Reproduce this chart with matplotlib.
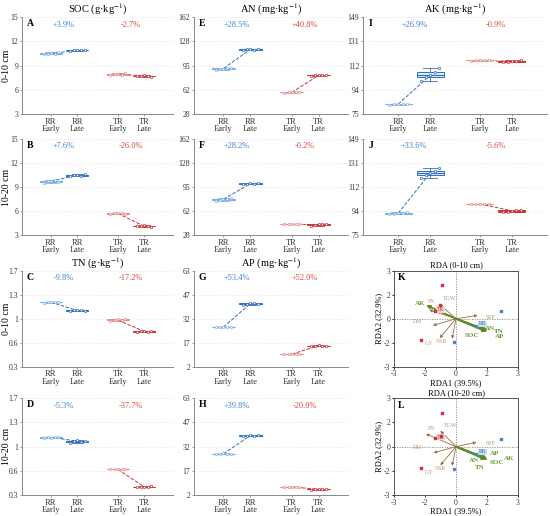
import numpy as np
import matplotlib
matplotlib.use('Agg')
import matplotlib.pyplot as plt

plt.rcParams['font.family'] = ['Liberation Serif', 'DejaVu Serif']
plt.rcParams['mathtext.fontset'] = 'stix'

groups = ['RR\nEarly', 'RR\nLate', 'TR\nEarly', 'TR\nLate']

# replicate values per group: RR Early, RR Late, TR Early, TR Late
soc_0_10 = [[10.4, 10.5, 10.6, 10.5, 10.7], [10.8, 10.9, 11.0, 10.9, 11.0],
            [7.9, 8.0, 8.0, 7.9, 8.1], [7.7, 7.7, 7.8, 7.7, 7.6]]
soc_10_20 = [[9.5, 9.7, 9.8, 9.9, 9.6], [10.4, 10.5, 10.5, 10.4, 10.6],
             [5.6, 5.7, 5.8, 5.7, 5.6], [4.1, 4.1, 4.2, 4.1, 4.0]]
tn_0_10 = [[1.23, 1.24, 1.25, 1.24, 1.25], [1.11, 1.12, 1.13, 1.12, 1.11],
           [0.97, 0.98, 0.99, 0.98, 0.99], [0.81, 0.815, 0.82, 0.81, 0.82]]
tn_10_20 = [[1.13, 1.14, 1.13, 1.14, 1.135], [1.06, 1.08, 1.09, 1.07, 1.08],
            [0.67, 0.67, 0.68, 0.67, 0.67], [0.41, 0.42, 0.42, 0.42, 0.43]]
an_0_10 = [[89.5, 90.5, 91, 91.5, 92], [116.5, 117.5, 118, 117, 118.5],
           [57.5, 58, 58.5, 58.5, 58], [81, 81.5, 82, 82, 81.5]]
an_10_20 = [[76, 77.5, 78, 78.5, 79], [98.5, 99.5, 100, 99.5, 100.5],
            [43, 43, 43.5, 43, 43.2], [41, 42.5, 43, 43.5, 44]]
ap_0_10 = [[27, 27.2, 27.3, 27.1, 27.2], [41.5, 42, 42.3, 42.5, 42],
           [9.8, 10, 10.1, 10, 10.2], [15, 15.3, 15.5, 15.3, 15.4]]
ap_10_20 = [[27.8, 28, 28.2, 28.1, 28], [39, 39.5, 39.7, 39.5, 39.8],
            [7, 7.1, 7.2, 7.1, 7.0], [5.4, 5.5, 5.7, 5.6, 5.8]]
ak_0_10 = [[82.2, 82.5, 82.7, 82.6, 82.8], [100, 103, 104.6, 107, 110],
           [115.8, 116, 116.1, 116, 116.2], [114.5, 115, 115.3, 115.8, 116.5]]
ak_10_20 = [[91, 91.5, 91.8, 92.2, 92.5], [119, 121, 122.7, 124.5, 127],
            [98.8, 99, 99.2, 99.1, 99], [92.5, 93, 93.6, 94, 94.5]]

# percent change labels (RR, TR)
pct_soc = [['+3.9%', '-2.7%'], ['+7.6%', '-26.0%']]
pct_tn = [['-9.8%', '-17.2%'], ['-5.3%', '-37.7%']]
pct_an = [['+28.5%', '+40.8%'], ['+28.2%', '-0.2%']]
pct_ap = [['+53.4%', '+52.0%'], ['+39.8%', '-20.0%']]
pct_ak = [['+26.9%', '-0.9%'], ['+33.6%', '-5.6%']]

soc_ticks = ['3', '6', '9', '12', '15']
tn_ticks = ['0.3', '0.6', '1', '1.3', '1.7']
an_ticks = ['28', '62', '95', '128', '162']
ap_ticks = ['2', '17', '32', '47', '63']
ak_ticks = ['75', '94', '112', '131', '149']
rda_ticks = ['-3', '-2', '0', '2', '3']

# RDA site scores
rr_x_0_10 = [2.2, -0.11, 0.99]
rr_y_0_10 = [0.46, -1.46, -0.48]
tr_x_0_10 = [-0.68, -1.69, -1.0, -0.79]
tr_y_0_10 = [2.08, -1.35, 0.48, 0.83]
rr_x_10_20 = [2.2, -0.11, 0.99]
rr_y_10_20 = [0.46, -1.4, -0.48]
tr_x_10_20 = [-0.68, -1.69, -1.0, -0.72]
tr_y_10_20 = [2.08, -1.31, 0.52, 0.68]

# RDA soil property vectors
soil_names_0_10 = ['AK', 'SOC', 'AN', 'TN', 'AP']
soil_x_0_10 = [-1.45, 1.5, 1.45, 1.55, 1.5]
soil_y_0_10 = [0.85, -0.82, -0.7, -0.75, -0.8]
soil_lx_0_10 = [-1.75, 0.75, 1.65, 2.1, 2.1]
soil_ly_0_10 = [0.92, -1.05, -0.6, -0.8, -1.12]
soil_names_10_20 = ['AN', 'AP', 'SOC', 'AK', 'TN']
soil_x_10_20 = [1.5, 1.5, 1.55, 1.5, 1.45]
soil_y_10_20 = [-0.72, -0.75, -0.8, -0.78, -0.8]
soil_lx_10_20 = [0.85, 1.9, 2.0, 2.6, 1.15]
soil_ly_10_20 = [-0.85, -0.45, -1.0, -0.75, -1.32]

# RDA crop trait vectors
crop_names = ['PN', 'TGW', 'SPP', 'DM', 'NSR', 'GY']
crop_x_0_10 = [-1.3, -0.8, 1.05, -1.12, -0.79, -0.19]
crop_y_0_10 = [0.55, 0.9, 0.21, -0.42, -1.21, -1.25]
crop_lx_0_10 = [-1.2, -0.3, 1.7, -1.85, -0.7, -1.3]
crop_ly_0_10 = [1.05, 1.25, 0.1, -0.2, -1.45, -1.55]
crop_x_10_20 = [-1.46, -0.76, 0.99, -1.09, -0.76, -0.19]
crop_y_10_20 = [0.79, 0.98, 0.27, -0.38, -1.15, -1.19]
crop_lx_10_20 = [-1.2, -0.28, 1.67, -1.85, -0.75, -1.3]
crop_ly_10_20 = [1.15, 1.3, 0.17, -0.06, -1.35, -1.58]

cols = ['#7fb0e3', '#3270bf', '#e58c8c', '#c8333a']
fills = ['#eef5fc', '#e3ecf8', '#fcefef', '#f8e3e4']
pct_cols = ['#3c7fd4', '#d6453d']
pos = [1, 2, 3.55, 4.55]
jit = [-0.28, -0.12, 0.0, 0.14, 0.28]

W, H = 550, 516
fig = plt.figure(figsize=(5.5, 5.16), dpi=100)

def ax_px(x0, x1, y0, y1):
    return fig.add_axes([x0 / W, 1 - y1 / H, (x1 - x0) / W, (y1 - y0) / H])

rows = [(17.3, 114), (139, 235), (270.7, 366.7), (398.3, 495)]
colx = [(22, 173), (194, 348), (363, 547)]


def box_panel(ax, data, lo, hi, ticks, pct, letter, title=None, ylabel=None):
    bp = ax.boxplot(data, positions=pos, widths=0.85, patch_artist=True,
                    showfliers=False, whis=(0, 100))
    for i in range(4):
        bp['boxes'][i].set(facecolor=fills[i], edgecolor=cols[i], linewidth=0.7)
        bp['medians'][i].set(color=cols[i], linewidth=0.8)
        for k in (2 * i, 2 * i + 1):
            bp['whiskers'][k].set(color=cols[i], linewidth=0.6)
            bp['caps'][k].set(color=cols[i], linewidth=0.6)
        ax.scatter(np.array(jit) + pos[i], data[i], s=3, facecolor='white',
                   edgecolor=cols[i], linewidth=0.5, zorder=3)
    for a, b in ((0, 1), (2, 3)):
        ax.plot([pos[a], pos[b]], [np.median(data[a]), np.median(data[b])],
                ls='--', lw=0.7, color=cols[b], zorder=2)
    ax.set_xlim(-0.1, 5.65)
    ax.set_ylim(lo, hi)
    yt = np.linspace(lo, hi, 5)
    ax.set_yticks(yt)
    ax.set_yticklabels(ticks)
    ax.set_xticks(pos)
    ax.set_xticklabels(groups, linespacing=0.95)
    ax.tick_params(labelsize=6, length=1.5, width=0.6, color='#888888', pad=1.2,
                   labelcolor='#333333')
    ax.tick_params(axis='y', labelsize=5.5)
    for y in yt[1:]:
        ax.axhline(y, color='#e6e6e6', lw=0.5, ls=(0, (1, 1)), zorder=0)
    for s in ('top', 'right'):
        ax.spines[s].set_visible(False)
    for s in ('left', 'bottom'):
        ax.spines[s].set_color('#888888')
        ax.spines[s].set_linewidth(0.7)
    ax.text(0.03, 0.98, letter, transform=ax.transAxes, fontsize=7,
            fontweight='bold', va='top')
    yy = hi - 0.075 * (hi - lo)
    ax.text((pos[0] + pos[1]) / 2, yy, pct[0], color=pct_cols[0], fontsize=6,
            ha='center', va='center')
    ax.text((pos[2] + pos[3]) / 2, yy, pct[1], color=pct_cols[1], fontsize=6,
            ha='center', va='center')
    if title:
        ax.set_title(title, fontsize=7.5, pad=1.5)
    if ylabel:
        ax.set_ylabel(ylabel, fontsize=7)
        ax.yaxis.set_label_coords(-0.07, 0.5)


def rda_panel(ax, title, letter, rrx, rry, trx, try_, sn, sx, sy, slx, sly,
              cx, cy, clx, cly):
    ax.set_xlim(-3, 3)
    ax.set_ylim(-3, 3)
    t = np.linspace(-3, 3, 5)
    ax.set_xticks(t)
    ax.set_xticklabels(rda_ticks)
    ax.set_yticks(t)
    ax.set_yticklabels(rda_ticks)
    ax.tick_params(labelsize=5.5, length=1.5, width=0.6, pad=1.2,
                   labelcolor='#333333')
    for s in ax.spines.values():
        s.set_color('#555555')
        s.set_linewidth(0.7)
    ax.axhline(0, color='#888888', lw=0.6, ls=(0, (1.5, 1.5)))
    ax.axvline(0, color='#888888', lw=0.6, ls=(0, (1.5, 1.5)))
    for i in range(len(cx)):
        ax.annotate('', xy=(cx[i], cy[i]), xytext=(0, 0),
                    arrowprops=dict(arrowstyle='-|>', color='#9c6b3c', lw=0.6,
                                    mutation_scale=4, shrinkA=0, shrinkB=0))
        ax.text(clx[i], cly[i], crop_names[i], color='#c29a72', fontsize=4.2,
                ha='center', va='center')
    for i in range(len(sx)):
        ax.annotate('', xy=(sx[i], sy[i]), xytext=(0, 0),
                    arrowprops=dict(arrowstyle='-|>', color='#5b8c2a', lw=1.3,
                                    mutation_scale=5, shrinkA=0, shrinkB=0))
        ax.text(slx[i], sly[i], sn[i], color='#6a9a32', fontsize=5,
                fontweight='bold', ha='center', va='center')
    ax.scatter(rrx, rry, s=4, marker='s', color='#4a86d0', zorder=4)
    ax.scatter(trx, try_, s=4, marker='s', color='#c8333a', zorder=4)
    ax.text(1.3, -0.33, 'RR', color='#3270bf', fontsize=4.2, ha='center',
            va='center', bbox=dict(boxstyle='square,pad=0.1', fc='#cfe0f5',
                                   ec='none'))
    ax.text(-0.76, 0.58, 'TR', color='#c8333a', fontsize=4.2, ha='center',
            va='center', bbox=dict(boxstyle='square,pad=0.1', fc='#f6d3d3',
                                   ec='none'))
    ax.text(-2.85, 2.85, letter, fontsize=7, fontweight='bold', va='top')
    ax.set_title(title, fontsize=6, pad=2.5)
    ax.set_xlabel('RDA1 (39.5%)', fontsize=6, labelpad=0.5)
    ax.set_ylabel('RDA2 (32.9%)', fontsize=6, labelpad=0.5)


unit = ' (g\u00b7kg$^{-1}$)'
munit = ' (mg\u00b7kg$^{-1}$)'

box_panel(ax_px(*colx[0], *rows[0]), soc_0_10, 3, 15, soc_ticks, pct_soc[0], 'A',
          'SOC' + unit, '0-10 cm')
box_panel(ax_px(*colx[0], *rows[1]), soc_10_20, 3, 15, soc_ticks, pct_soc[1], 'B',
          None, '10-20 cm')
box_panel(ax_px(*colx[0], *rows[2]), tn_0_10, 0.3, 1.7, tn_ticks, pct_tn[0], 'C',
          'TN' + unit, '0-10 cm')
box_panel(ax_px(*colx[0], *rows[3]), tn_10_20, 0.3, 1.7, tn_ticks, pct_tn[1], 'D',
          None, '10-20 cm')
box_panel(ax_px(*colx[1], *rows[0]), an_0_10, 28, 162, an_ticks, pct_an[0], 'E',
          'AN' + munit)
box_panel(ax_px(*colx[1], *rows[1]), an_10_20, 28, 162, an_ticks, pct_an[1], 'F')
box_panel(ax_px(*colx[1], *rows[2]), ap_0_10, 2, 63, ap_ticks, pct_ap[0], 'G',
          'AP' + munit)
box_panel(ax_px(*colx[1], *rows[3]), ap_10_20, 2, 63, ap_ticks, pct_ap[1], 'H')
box_panel(ax_px(*colx[2], *rows[0]), ak_0_10, 75, 149, ak_ticks, pct_ak[0], 'I',
          'AK' + munit)
box_panel(ax_px(*colx[2], *rows[1]), ak_10_20, 75, 149, ak_ticks, pct_ak[1], 'J')

rda_panel(ax_px(394.3, 517.7, *rows[2]), 'RDA (0-10 cm)', 'K',
          rr_x_0_10, rr_y_0_10, tr_x_0_10, tr_y_0_10,
          soil_names_0_10, soil_x_0_10, soil_y_0_10, soil_lx_0_10, soil_ly_0_10,
          crop_x_0_10, crop_y_0_10, crop_lx_0_10, crop_ly_0_10)
rda_panel(ax_px(394.3, 517.7, *rows[3]), 'RDA (10-20 cm)', 'L',
          rr_x_10_20, rr_y_10_20, tr_x_10_20, tr_y_10_20,
          soil_names_10_20, soil_x_10_20, soil_y_10_20, soil_lx_10_20, soil_ly_10_20,
          crop_x_10_20, crop_y_10_20, crop_lx_10_20, crop_ly_10_20)

fig.savefig('out.png', dpi=100)
